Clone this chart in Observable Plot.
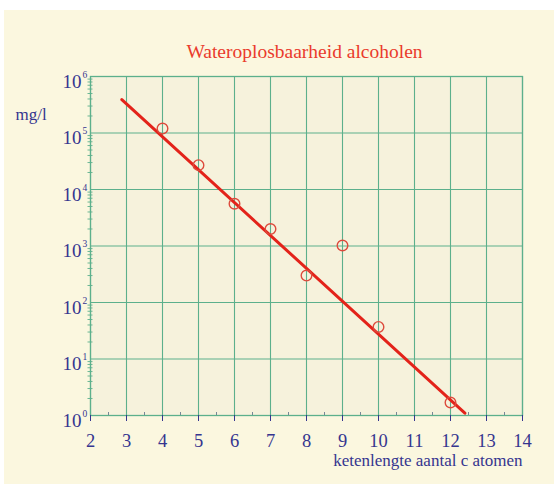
<!DOCTYPE html>
<html>
<head>
<meta charset="utf-8">
<script src="https://cdn.jsdelivr.net/npm/d3@7"></script>
<script src="https://cdn.jsdelivr.net/npm/@observablehq/plot@0.6"></script>
<style>
  html, body { margin: 0; padding: 0; background: #ffffff; }
  #wrap { position: absolute; left: 4px; top: 10px; width: 550px; height: 474px; background: #fbf7df; }
  svg { display: block; }
</style>
</head>
<body>
<div id="wrap"></div>
<script>
// ---- data ----
const carbons = [4, 5, 6, 7, 8, 9, 10, 12];
const solubility = [120000, 27000, 5600, 2000, 300, 1020, 37, 1.7];
const fitCarbons = [2.87, 12.4];
const fitSolubility = [390000, 1.1];
const xTicks = [2, 3, 4, 5, 6, 7, 8, 9, 10, 11, 12, 13, 14];
const xMinorTicks = [2.5, 3.5, 4.5, 5.5, 6.5, 7.5, 8.5, 9.5, 10.5, 11.5, 12.5, 13.5];
const yExponents = [0, 1, 2, 3, 4, 5, 6];
const titleText = "Wateroplosbaarheid alcoholen";
const yLabel = "mg/l";
const xLabel = "ketenlengte aantal c atomen";

const points = carbons.map((c, i) => ({c, s: solubility[i]}));
const fit = fitCarbons.map((c, i) => ({c, s: fitSolubility[i]}));
const yMajor = yExponents.map(e => 10 ** e);
const yMinor = [];
for (let e = 0; e < 6; e++) for (let m = 2; m <= 9; m++) yMinor.push(m * 10 ** e);

const navy = "#35358f";
const green = "#5cb08c";
const red = "#e3231a";
const font = "'Liberation Serif', 'Times New Roman', serif";

const chart = Plot.plot({
  width: 550,
  height: 474,
  marginLeft: 86,
  marginRight: 32,
  marginTop: 66,
  marginBottom: 69,
  style: {background: "transparent", fontFamily: font, color: navy},
  x: {type: "linear", domain: [2, 14], axis: null},
  y: {type: "log", domain: [1, 1e6], axis: null},
  marks: [
    Plot.frame({fill: "#f6f2dc", stroke: "none"}),
    Plot.gridX(xTicks, {stroke: green, strokeOpacity: 1, strokeWidth: 1.1}),
    Plot.gridY(yMajor, {stroke: green, strokeOpacity: 1, strokeWidth: 1.1}),
    Plot.frame({stroke: green, strokeWidth: 1.3}),
    Plot.axisY(yMinor, {anchor: "left", tickSize: 5, dx: 2.5, tickFormat: () => "", label: null, stroke: green, strokeWidth: 0.9}),
    Plot.axisX(xMinorTicks, {anchor: "bottom", tickSize: 3, dy: -3, tickFormat: () => "", label: null, stroke: "#6a7a8f", strokeWidth: 0.9}),
    Plot.axisX(xTicks, {anchor: "bottom", tickSize: 6, tickPadding: 12, label: null, stroke: navy, strokeWidth: 1, fill: navy, fontSize: 18.5, fontFamily: font, tickFormat: d => String(d)}),
    Plot.text(yExponents, {y: d => 10 ** d, frameAnchor: "left", textAnchor: "end", dx: -9, dy: 5, text: () => "10", fill: navy, fontSize: 19, fontFamily: font}),
    Plot.text(yExponents, {y: d => 10 ** d, frameAnchor: "left", textAnchor: "start", dx: -8, dy: -2, text: d => String(d), fill: navy, fontSize: 9.5, fontFamily: font}),
    Plot.line(fit, {x: "c", y: "s", stroke: red, strokeWidth: 3}),
    Plot.dot(points, {x: "c", y: "s", r: 5.3, stroke: "#dd4a3c", strokeWidth: 1.4, fill: "none"}),
    Plot.text([titleText], {frameAnchor: "top", text: d => d, dx: -2, dy: -32, fill: "#ea3b2c", fontSize: 19.5, fontFamily: font}),
    Plot.text([yLabel], {frameAnchor: "top-left", text: d => d, textAnchor: "start", dx: -75, dy: 31, fill: navy, fontSize: 17, fontFamily: font}),
    Plot.text([xLabel], {frameAnchor: "bottom-right", text: d => d, textAnchor: "end", dx: 0, dy: 50, fill: navy, fontSize: 17, fontFamily: font})
  ]
});
document.getElementById("wrap").appendChild(chart);
</script>
</body>
</html>
